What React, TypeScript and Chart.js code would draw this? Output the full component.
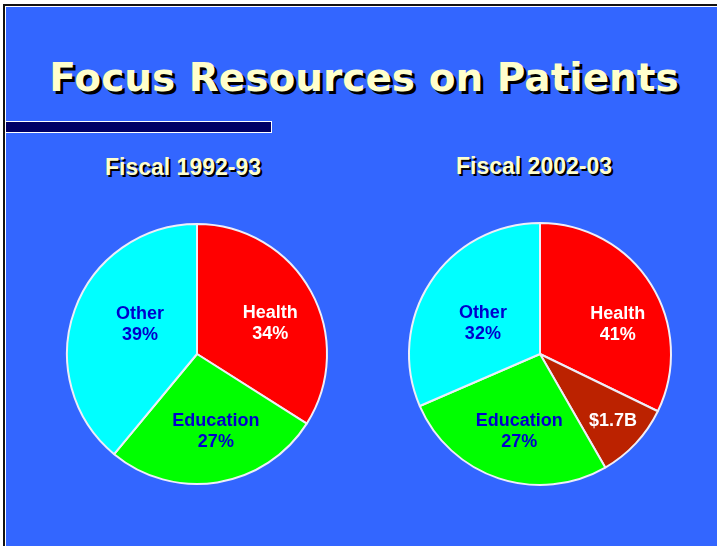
import React, { useEffect, useRef } from "react";
import { Chart, registerables } from "chart.js";

Chart.register(...registerables);

// ---- data ----
const titleText = "Focus Resources on Patients";
const leftTitle = "Fiscal 1992-93";
const rightTitle = "Fiscal 2002-03";

const leftCategories = ["Health", "Education", "Other"];
const leftValues = [34, 27, 39];
const leftLabels = [["Health", "34%"], ["Education", "27%"], ["Other", "39%"]];

const rightCategories = ["Health", "Added", "Education", "Other"];
const rightValues = [32.2, 9.5, 26.8, 31.5];
const rightLabels = [["Health", "41%"], ["$1.7B"], ["Education", "27%"], ["Other", "32%"]];

// ---- styles ----
const BG = "#3366FF";
const leftColors = ["#FF0000", "#00FF00", "#00FFFF"];
const rightColors = ["#FF0000", "#BB2200", "#00FF00", "#00FFFF"];
const leftTextColors = ["#FFFFFF", "#0000CC", "#0000CC"];
const rightTextColors = ["#FFFFFF", "#FFFFFF", "#0000CC", "#0000CC"];
// [radius fraction, angle shift in degrees]
const leftLabelPlace = [[0.615, 5], [0.6, -5], [0.5, 9]];
const rightLabelPlace = [[0.64, 10], [0.75, -1], [0.6, -3], [0.5, -4]];

const labelPlugin = {
  id: "sliceLabels",
  afterDatasetsDraw(chart: any, _args: any, opts: any) {
    const ctx = chart.ctx;
    const meta = chart.getDatasetMeta(0);
    ctx.save();
    ctx.font = "bold 18px 'Liberation Sans', Arial, sans-serif";
    ctx.textAlign = "center";
    ctx.textBaseline = "middle";
    meta.data.forEach((arc: any, i: number) => {
      const p = arc.getProps(["x", "y", "startAngle", "endAngle", "outerRadius"], true);
      const [frac, shift] = opts.place[i];
      const mid = (p.startAngle + p.endAngle) / 2 + (shift * Math.PI) / 180;
      const r = p.outerRadius * frac;
      const cx = p.x + Math.cos(mid) * r;
      const cy = p.y + Math.sin(mid) * r + 1.5;
      const lines: string[] = opts.labels[i];
      const lh = 21;
      ctx.fillStyle = opts.colors[i];
      lines.forEach((t, k) => {
        ctx.fillText(t, cx, cy + (k - (lines.length - 1) / 2) * lh);
      });
    });
    ctx.restore();
  },
};

function Pie(props: {
  categories: string[];
  values: number[];
  colors: string[];
  labels: string[][];
  textColors: string[];
  place: number[][];
  radius: number;
  style: React.CSSProperties;
}) {
  const ref = useRef<HTMLCanvasElement | null>(null);
  useEffect(() => {
    if (!ref.current) return;
    const chart = new Chart(ref.current, {
      type: "pie",
      data: {
        labels: props.categories,
        datasets: [
          {
            data: props.values,
            backgroundColor: props.colors,
            borderColor: "#EEEEF8",
            borderWidth: 2,
          },
        ],
      },
      options: {
        animation: false,
        responsive: false,
        radius: props.radius,
        plugins: {
          legend: { display: false },
          tooltip: { enabled: false },
          sliceLabels: { labels: props.labels, colors: props.textColors, place: props.place },
        } as any,
      },
      plugins: [labelPlugin],
    });
    return () => chart.destroy();
  }, []);
  return <canvas ref={ref} width={270} height={270} style={{ position: "absolute", ...props.style }} />;
}

const subStyle: React.CSSProperties = {
  position: "absolute",
  font: "bold 23px 'Liberation Sans', Arial, sans-serif",
  color: "#FFFFCC",
  textShadow: "2px 2px 0 #000",
  whiteSpace: "nowrap",
  transform: "translate(-50%, -50%)",
};

export default function App() {
  return (
    <div
      style={{
        position: "absolute",
        left: 0,
        top: 0,
        width: 717,
        height: 546,
        background: "#FFFFFF",
        overflow: "hidden",
      }}
    >
      <div
        style={{
          position: "absolute",
          left: 3,
          top: 4,
          width: 800,
          height: 700,
          borderTop: "2px solid #111",
          borderLeft: "2px solid #111",
          background: "#FFFFFF",
        }}
      />
      <div style={{ position: "absolute", left: 6, top: 7, width: 800, height: 700, background: BG }} />
      <div
        style={{
          position: "absolute",
          left: 364,
          top: 77,
          transform: "translate(-50%, -50%)",
          font: "bold 39px 'DejaVu Sans', Verdana, sans-serif",
          color: "#FFFFCC",
          textShadow: "3px 3px 0 #000",
          whiteSpace: "nowrap",
        }}
      >
        {titleText}
      </div>
      <div
        style={{
          position: "absolute",
          left: 6,
          top: 121,
          width: 266,
          height: 12,
          boxSizing: "border-box",
          border: "1px solid #FFFFFF",
          borderLeft: "none",
          background: "#000066",
        }}
      />
      <div style={{ ...subStyle, left: 183, top: 167 }}>{leftTitle}</div>
      <div style={{ ...subStyle, left: 534, top: 166 }}>{rightTitle}</div>
      <Pie
        categories={leftCategories}
        values={leftValues}
        colors={leftColors}
        labels={leftLabels}
        textColors={leftTextColors}
        place={leftLabelPlace}
        radius={130}
        style={{ left: 62, top: 219 }}
      />
      <Pie
        categories={rightCategories}
        values={rightValues}
        colors={rightColors}
        labels={rightLabels}
        textColors={rightTextColors}
        place={rightLabelPlace}
        radius={131}
        style={{ left: 405, top: 219 }}
      />
    </div>
  );
}
